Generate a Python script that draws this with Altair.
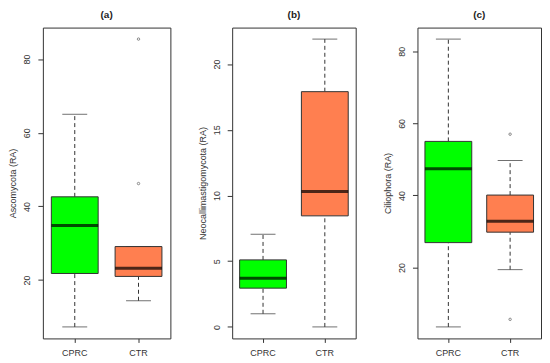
import altair as alt
import pandas as pd

groups = ["CPRC", "CTR"]
colors = ["#00FF00", "#FF7F50"]

# Panel (a) Ascomycota
a_low = [7.3, 14.4]
a_q1 = [21.8, 21.0]
a_med = [34.8, 23.2]
a_q3 = [42.6, 29.1]
a_high = [65.0, 29.1]
a_out_group = ["CTR", "CTR"]
a_out_val = [46.2, 85.4]
a_ticks = [20, 40, 60, 80]

# Panel (b) Neocallimastigomycota
b_low = [1.0, 0.0]
b_q1 = [2.95, 8.45]
b_med = [3.7, 10.3]
b_q3 = [5.1, 17.9]
b_high = [7.05, 21.9]
b_out_group = []
b_out_val = []
b_ticks = [0, 5, 10, 15, 20]

# Panel (c) Ciliophora
c_low = [3.5, 19.4]
c_q1 = [26.9, 29.8]
c_med = [47.4, 32.8]
c_q3 = [55.0, 40.1]
c_high = [83.4, 49.7]
c_out_group = ["CTR", "CTR"]
c_out_val = [5.6, 57.0]
c_ticks = [20, 40, 60, 80]

FONT = "Liberation Sans"
INK = "#333333"


def panel(title, ytitle, low, q1, med, q3, high, og, ov, ticks, width, height=312):
    df = pd.DataFrame({"group": groups, "low": low, "q1": q1, "med": med,
                       "q3": q3, "high": high})
    vals = list(low) + list(high) + list(ov)
    lo, hi = min(vals), max(vals)
    pad = (hi - lo) * 0.04
    ys = alt.Scale(domain=[lo - pad, hi + pad], nice=False, zero=False)
    x = alt.X("group:N",
              scale=alt.Scale(domain=groups, paddingInner=0, paddingOuter=0),
              axis=alt.Axis(title=None, labelAngle=0, tickSize=4, labelPadding=6,
                            domain=False, ticks=True, tickColor=INK,
                            labelFontSize=9))
    yaxis = alt.Axis(title=ytitle, values=ticks, tickSize=5, labelAngle=270,
                     labelAlign="center", labelBaseline="bottom",
                     labelPadding=6, titlePadding=5, domain=False, grid=False,
                     tickColor=INK, labelFontSize=9, titleFontSize=9)

    def Y(field):
        return alt.Y(field, scale=ys, axis=yaxis, title=ytitle)

    base = alt.Chart(df)
    wlo = base.mark_rule(strokeDash=[4, 3], color=INK, strokeWidth=1).encode(
        x=x, y=Y("low:Q"), y2="q1:Q")
    whi = base.mark_rule(strokeDash=[4, 3], color=INK, strokeWidth=1).encode(
        x=x, y=Y("q3:Q"), y2="high:Q")
    cap_lo = base.mark_tick(size=25, thickness=1, color=INK).encode(
        x=x, y=Y("low:Q"))
    cap_hi = base.mark_tick(size=25, thickness=1, color=INK).encode(
        x=x, y=Y("high:Q"))
    box = base.mark_bar(size=47, stroke=INK, strokeWidth=1).encode(
        x=x, y=Y("q1:Q"), y2="q3:Q",
        color=alt.Color("group:N", scale=alt.Scale(domain=groups, range=colors),
                        legend=None))
    medm = base.mark_tick(size=47, thickness=3, color="black").encode(
        x=x, y=Y("med:Q"))
    layers = [wlo, whi, cap_lo, cap_hi, box, medm]
    if len(ov) > 0:
        odf = pd.DataFrame({"group": og, "val": ov})
        out = alt.Chart(odf).mark_point(shape="circle", size=6, filled=False,
                                        color="#555555", strokeWidth=1).encode(
            x=x, y=Y("val:Q"))
        layers.append(out)
    return alt.layer(*layers).properties(
        width=width, height=height,
        title=alt.TitleParams(title, fontSize=10, fontWeight="bold", offset=8,
                              font=FONT, color="#222222"))


pa = panel("(a)", "Ascomycota (RA)", a_low, a_q1, a_med, a_q3, a_high,
           a_out_group, a_out_val, a_ticks, 128)
pb = panel("(b)", "Neocallimastigomycota (RA)", b_low, b_q1, b_med, b_q3, b_high,
           b_out_group, b_out_val, b_ticks, 124)
pc = panel("(c)", "Ciliophora (RA)", c_low, c_q1, c_med, c_q3, c_high,
           c_out_group, c_out_val, c_ticks, 124)

chart = alt.hconcat(pa, pb, pc, spacing=62, bounds="flush").resolve_scale(
    y="independent", x="independent").configure_view(
    stroke=INK, strokeWidth=1).configure_axis(
    labelFont=FONT, titleFont=FONT, labelColor=INK, titleColor=INK,
    titleFontWeight="normal").properties(padding=0, background="white")

chart.save("out.html", embed_options={"renderer": "svg", "actions": False})
